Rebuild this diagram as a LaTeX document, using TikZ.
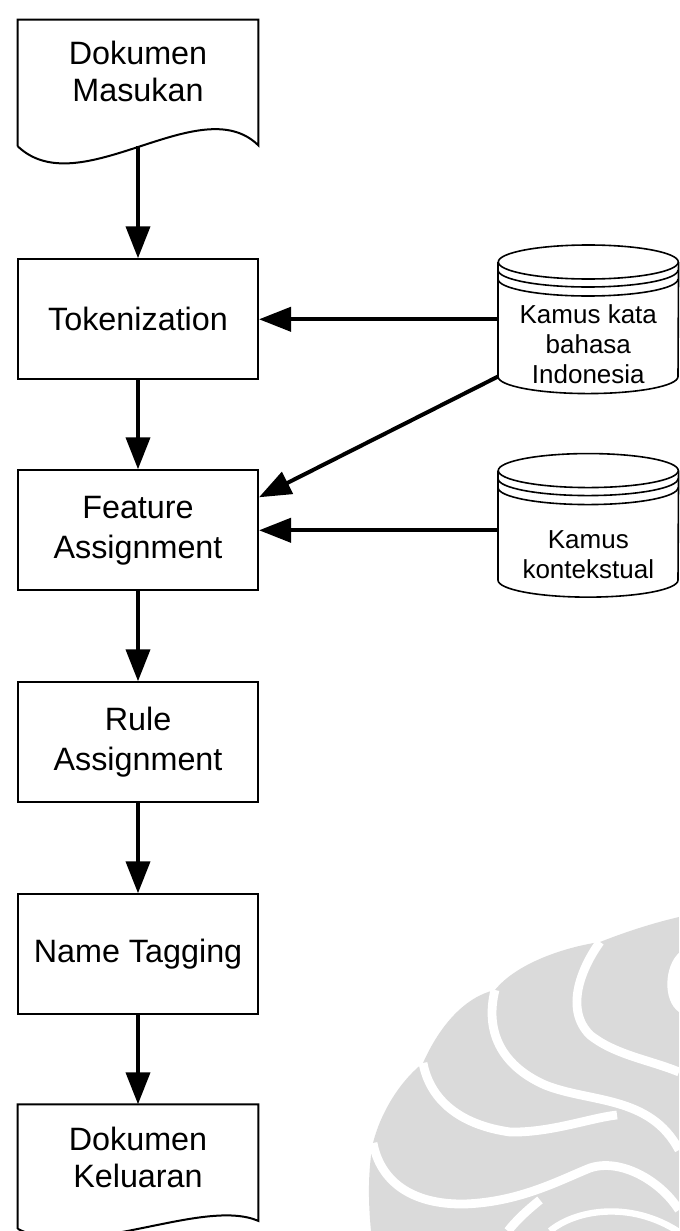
\documentclass[tikz,border=0pt]{standalone}
\usepackage{fontspec}
\setmainfont{Liberation Sans}
\usetikzlibrary{arrows.meta,positioning,calc}
\definecolor{wmark}{HTML}{DADADA}

\begin{document}
\begin{tikzpicture}[
  font=\fontsize{23}{28.5}\selectfont,
  box/.style={draw, line width=0.5mm, align=center, minimum width=60mm, minimum height=30mm, inner sep=0pt, fill=white},
  doc/.style={align=center, minimum width=60mm, inner sep=0pt, font=\fontsize{23}{26.3}\selectfont},
  docline/.style={line width=0.5mm},
  db/.style={minimum width=45mm, inner sep=0pt},
  dbtxt/.style={align=center, inner sep=0pt, font=\fontsize{18.5}{21.3}\selectfont},
  dbline/.style={line width=0.4mm},
  arr/.style={-{Triangle[length=8mm, width=6mm]}, line width=1mm},
  band/.style={white, line width=2.2mm}]

  \useasboundingbox (0,0) rectangle (169.75mm,-307.75mm);

  % watermark
  \begin{scope}[x=0.25mm, y=-0.25mm]
    \fill[wmark] (679,917) .. controls (645,925) and (618,935) .. (600,942)
      .. controls (560,948) and (515,965) .. (495,990)
      .. controls (465,997) and (440,1025) .. (423,1063)
      .. controls (398,1083) and (380,1115) .. (373,1143)
      .. controls (368,1170) and (368,1200) .. (371,1231)
      -- (679,1231) -- cycle;
    \fill[white] (679,953) .. controls (665,965) and (662,1000) .. (679,1012) -- cycle;
    \draw[band] (600,942) .. controls (580,970) and (565,1010) .. (590,1035) .. controls (615,1055) and (650,1060) .. (679,1072);
    \draw[band] (495,990) .. controls (485,1030) and (500,1065) .. (545,1085) .. controls (590,1103) and (650,1095) .. (679,1150);
    \draw[band] (423,1063) .. controls (430,1100) and (460,1125) .. (510,1132) .. controls (550,1133) and (590,1118) .. (617,1115);
    \draw[band] (373,1143) .. controls (380,1180) and (410,1205) .. (465,1204) .. controls (520,1202) and (560,1180) .. (590,1168) .. controls (620,1158) and (660,1180) .. (679,1210);
    \draw[band] (540,1200) .. controls (525,1212) and (515,1222) .. (508,1231);
    \draw[band, line width=1.6mm] (550,1231) .. controls (575,1210) and (630,1200) .. (679,1232);
  \end{scope}

  \node[doc, minimum height=25.75mm] (masukan) at (34.5mm,-17.875mm) {Dokumen\\Masukan};
  \node[box, below=33.75mm of masukan] (tok) {Tokenization};
  \node[box, below=22.25mm of tok] (feat) {Feature\\Assignment};
  \node[box, below=22.5mm of feat] (rule) {Rule\\Assignment};
  \node[box, below=22.5mm of rule] (tag) {Name Tagging};
  \node[doc, minimum height=26.5mm, below=22.25mm of tag] (kel) {Dokumen\\Keluaran};
  \node[db, minimum height=28.5mm, right=59.75mm of tok] (kbbi) {};
  \node[db, minimum height=27.25mm, below=23.5mm of kbbi] (kon) {};
  \node[dbtxt] (kbbitxt) at ([yshift=-6.25mm]kbbi.center) {Kamus kata\\bahasa\\Indonesia};
  \node[dbtxt] (kontxt) at ([yshift=-7.375mm]kon.center) {Kamus\\kontekstual};

  \draw[docline] ([yshift=-5.75mm]masukan.south west) -- (masukan.north west) -- (masukan.north east) -- ([yshift=-5.5mm]masukan.south east)
    .. controls +(-14.5mm,14.25mm) and +(15.5mm,-14.75mm) .. ([yshift=-5.75mm]masukan.south west);
  \draw[docline] ([yshift=-4.5mm]kel.south west) -- (kel.north west) -- (kel.north east) -- ([yshift=-2.5mm]kel.south east)
    .. controls +(-14mm,6mm) and +(16.25mm,-8.25mm) .. ([yshift=-4.5mm]kel.south west);

  \foreach \n in {kbbi,kon} {
    \draw[dbline] (\n.north west) -- (\n.south west) arc[start angle=180, end angle=360, x radius=22.5mm, y radius=4.25mm] -- (\n.north east);
    \draw[dbline] (\n.north) ellipse[x radius=22.5mm, y radius=4.25mm];
    \draw[dbline] ([yshift=-2mm]\n.north west) arc[start angle=180, end angle=360, x radius=22.5mm, y radius=4.25mm];
    \draw[dbline] ([yshift=-4.25mm]\n.north west) arc[start angle=180, end angle=360, x radius=22.5mm, y radius=4.25mm];
  }

  \draw[arr] ([yshift=-5.75mm]masukan.south) -- (tok.north);
  \draw[arr] (tok) -- (feat);
  \draw[arr] (feat) -- (rule);
  \draw[arr] (rule) -- (tag);
  \draw[arr] (tag) -- (kel);
  \draw[arr] (kbbi.west) -- (tok.east);
  \draw[arr] (kbbi.south west) -- ([yshift=-7mm]feat.north east);
  \draw[arr] (kon.west |- feat.east) -- (feat.east);
\end{tikzpicture}
\end{document}
